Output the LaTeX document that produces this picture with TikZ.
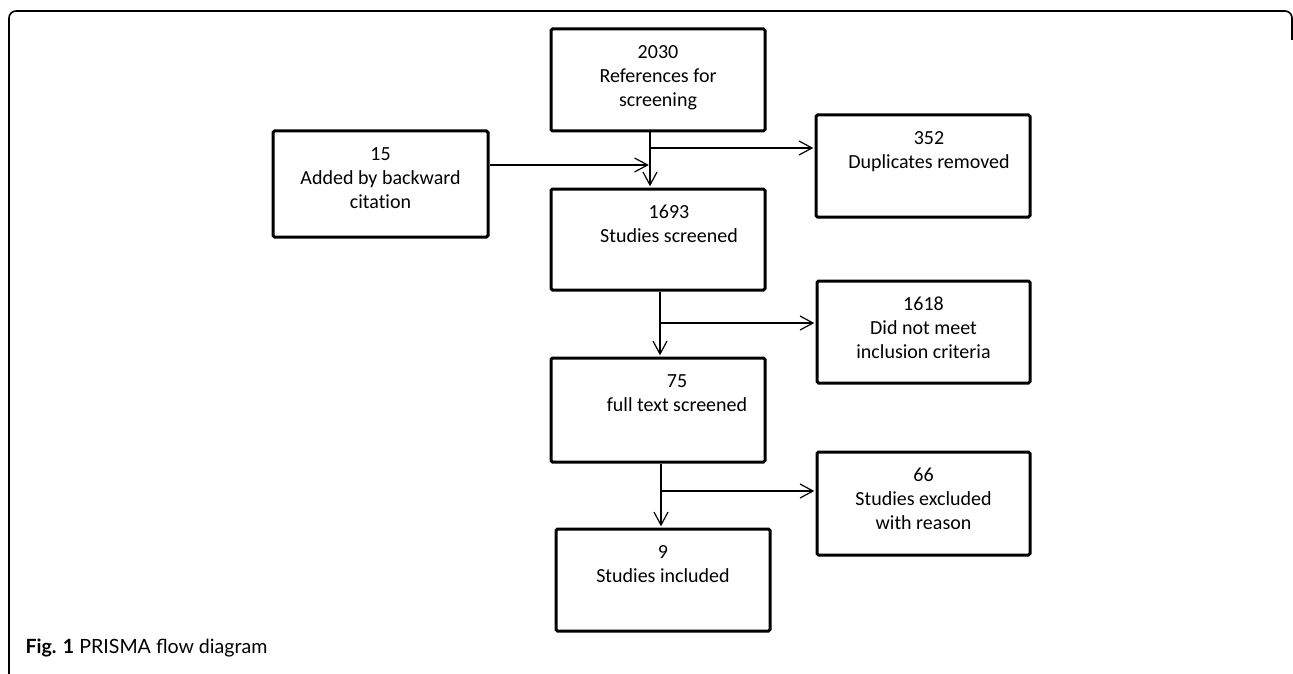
\documentclass[tikz,border=0pt]{standalone}
\usepackage{fontspec}
\setmainfont{Carlito}[Ligatures={NoCommon,NoContextual}]
\newfontfamily\capfont{Lato}
\usetikzlibrary{arrows.meta}
\usetikzlibrary{positioning}

\newcommand{\stagetext}[3][0pt]{\hspace*{#1}\parbox[c][#2][t]{170pt}{\centering\strut #3}}

\begin{document}
\begin{tikzpicture}[
    x=1pt, y=-1pt,
    stage/.style={
        draw, line width=3pt, rounded corners=1.5pt,
        inner xsep=0pt, inner ysep=13pt,
        font=\fontsize{20}{24}\selectfont
    },
    flow/.style={
        line width=1.2pt, shorten >=1.2pt,
        -{Straight Barb[length=13pt,width=14pt,line width=1.2pt]}
    },
    frame/.style={
        line width=1.6pt, rounded corners=7pt
    }
]
    \useasboundingbox (0,0) rectangle (1293,674);
    \draw[frame] (9,674) -- (9,11) -- (1292,11) -- (1292,40);

    \node[stage, minimum width=214pt, minimum height=102pt] (refs) at (658,80)
        {\stagetext{76pt}{2030\\References for\\screening}};
    \node[stage, minimum width=215pt, minimum height=106pt] (backward) at (380.5,184)
        {\stagetext{80pt}{15\\Added by backward\\citation}};
    \node[stage, minimum width=214pt, minimum height=102pt] (dups) at (923,166)
        {\stagetext[12pt]{76pt}{352\\Duplicates removed}};
    \node[stage, minimum width=214pt, minimum height=101pt] (screened) at (658,239.5)
        {\stagetext[22pt]{75pt}{1693\\Studies screened}};
    \node[stage, minimum width=213pt, minimum height=102pt] (notmet) at (923.5,332)
        {\stagetext{76pt}{1618\\Did not meet\\inclusion criteria}};
    \node[stage, minimum width=214pt, minimum height=104pt] (fulltext) at (658,410)
        {\stagetext[38pt]{78pt}{75\\full text screened}};
    \node[stage, minimum width=213pt, minimum height=103pt] (excluded) at (923.5,503.5)
        {\stagetext{77pt}{66\\Studies excluded\\with reason}};
    \node[stage, minimum width=214pt, minimum height=102pt] (included) at (663,580)
        {\stagetext{76pt}{9\\Studies included}};

    \node[anchor=west, font=\capfont\fontsize{19.6}{22}\selectfont] (caption) at (22,648)
        {\textbf{Fig. 1} PRISMA flow diagram};

    \coordinate (split1) at (650,148);
    \coordinate (merge1) at (650,165);
    \coordinate (split2) at (660,323);
    \coordinate (split3) at (661,491);

    \draw[flow] (refs.south -| split1) -- (screened.north -| split1);
    \draw[flow] (split1) -- (split1 -| dups.west);
    \draw[flow] (backward.east |- merge1) -- (merge1);
    \draw[flow] (screened.south -| split2) -- (fulltext.north -| split2);
    \draw[flow] (split2) -- (split2 -| notmet.west);
    \draw[flow] (fulltext.south -| split3) -- (included.north -| split3);
    \draw[flow] (split3) -- (split3 -| excluded.west);
\end{tikzpicture}
\end{document}
